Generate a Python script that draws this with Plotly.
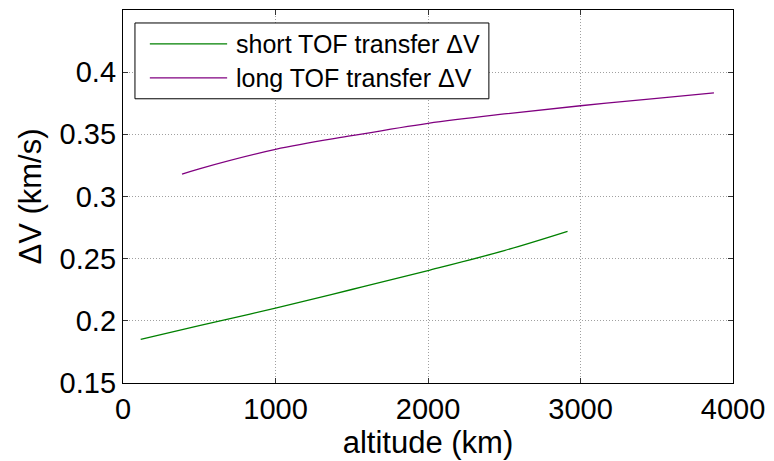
import plotly.graph_objects as go

# data
short_alt = [116, 500, 1000, 1500, 2000, 2500, 2915]
short_dv = [0.185, 0.1962, 0.2102, 0.2252, 0.2404, 0.2565, 0.272]
long_alt = [387, 500, 1000, 1500, 2000, 2500, 3000, 3500, 3875]
long_dv = [0.318, 0.3223, 0.3379, 0.3489, 0.3589, 0.3664, 0.373, 0.3789, 0.3833]
series_names = ["short TOF transfer \u0394V", "long TOF transfer \u0394V"]
series_colors = ["#008000", "#800080"]
x_ticks = [0, 1000, 2000, 3000, 4000]
y_ticks = [0.15, 0.2, 0.25, 0.3, 0.35, 0.4]
y_tick_text = ["0.15", "0.2", "0.25", "0.3", "0.35", "0.4"]

FONT = "Liberation Sans, Arial, sans-serif"

fig = go.Figure()
for xs, ys, name, col in [(short_alt, short_dv, series_names[0], series_colors[0]),
                          (long_alt, long_dv, series_names[1], series_colors[1])]:
    fig.add_trace(go.Scatter(x=xs, y=ys, mode="lines", line_shape="spline",
                             name=name, line=dict(color=col, width=1.3)))

axis_common = dict(
    showline=True, linecolor="black", linewidth=1.3, mirror="ticks",
    ticks="inside", ticklen=5, tickcolor="#333333", tickwidth=1,
    showgrid=True, gridcolor="#a0a0a0", griddash="1px,2px", gridwidth=1,
    zeroline=False, tickfont=dict(family=FONT, size=29, color="black"),
)

fig.update_xaxes(range=[0, 4000], tickvals=x_ticks,
                 title=dict(text="altitude (km)", font=dict(family=FONT, size=31, color="black"), standoff=2),
                 **axis_common)
fig.update_yaxes(range=[0.15, 0.45], tickvals=y_ticks, ticktext=y_tick_text,
                 title=dict(text="\u0394V (km/s)", font=dict(family=FONT, size=31, color="black"), standoff=8),
                 **axis_common)

# legend box drawn in paper coordinates (MATLAB-style long legend lines)
shapes = [dict(type="rect", xref="paper", yref="paper", x0=0.0196, x1=0.5998, y0=0.762, y1=0.9652,
               line=dict(color="black", width=1), fillcolor="white", layer="above")]
annotations = []
for i, (name, col) in enumerate(zip(series_names, series_colors)):
    yy = [0.9091, 0.8182][i]
    shapes.append(dict(type="line", xref="paper", yref="paper", x0=0.0440, x1=0.1707, y0=yy, y1=yy,
                       line=dict(color=col, width=1.3), layer="above"))
    annotations.append(dict(xref="paper", yref="paper", x=0.1826, y=yy, xanchor="left", yanchor="middle",
                            text=name, showarrow=False, font=dict(family=FONT, size=25, color="black")))

fig.update_layout(
    width=774, height=461,
    margin=dict(l=123, r=37, t=9, b=78),
    paper_bgcolor="white", plot_bgcolor="white",
    showlegend=False,
    shapes=shapes, annotations=annotations,
)

fig.write_html("out.html", config={"displayModeBar": False},
               post_script="document.body.style.margin='0';")
